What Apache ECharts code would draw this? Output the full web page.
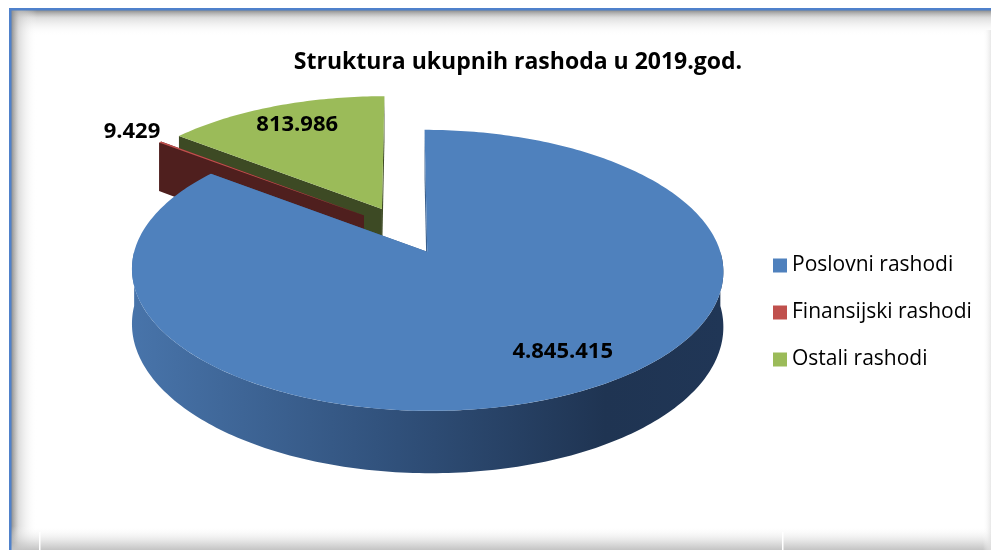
<!DOCTYPE html>
<html>
<head>
<meta charset="utf-8">
<script src="https://cdn.jsdelivr.net/npm/echarts@6/dist/echarts.min.js"></script>
<style>
  html, body { margin: 0; padding: 0; background: #fff; }
  #chart { width: 991px; height: 550px; }
</style>
</head>
<body>
<div id="chart"></div>
<script>
// data
const categories = ['Poslovni rashodi', 'Finansijski rashodi', 'Ostali rashodi']
const values = [4845415, 9429, 813986]
const titleText = 'Struktura ukupnih rashoda u 2019.god.'

// look
const topColors = ['#4F81BD', '#C0504D', '#9BBB59']
const wallColors = ['#3A5F8C', '#4F1F1E', '#3D4A24']
const seriesZ = [4, 3, 2]
const labelRadius = [0.78, 1.15, 0.8]
const labelTurn = [-6, 0, 1] // degrees, nudges label off the bisector
const FONT = '"Open Sans", "Noto Sans", sans-serif'

// 3d projection of the pie plane (unit radius) onto the page
const X0 = 404
const R = 287
const A = 230
const B = 102.7
const C = -0.129
const DEPTH = 53
const EXPLODE = 0.18

function project(px, py, dz) {
  const s = 1 / (1 + C * py)
  return [X0 + R * px * s, (A + B * py) * s + DEPTH * dz * s]
}

function fmt(v) {
  return String(v).replace(/\B(?=(\d{3})+(?!\d))/g, '.')
}

const total = values.reduce((s, x) => s + x, 0)

function makeRender(i) {
  return function (params, api) {
    const v = api.value(0)
    const before = values.slice(0, i).reduce((s, x) => s + x, 0)
    const a0 = (before / total) * 2 * Math.PI
    const a1 = ((before + v) / total) * 2 * Math.PI
    const mid = (a0 + a1) / 2
    const ox = EXPLODE * Math.sin(mid)
    const oy = -EXPLODE * Math.cos(mid)
    const rim = (t, dz, r = 1) =>
      project(ox + r * Math.sin(t), oy - r * Math.cos(t), dz)
    const arc = (t0, t1, dz) => {
      const n = Math.max(2, Math.ceil((t1 - t0) / (Math.PI / 180)))
      const pts = []
      for (let k = 0; k <= n; k++) pts.push(rim(t0 + ((t1 - t0) * k) / n, dz))
      return pts
    }
    const children = []

    // front part of the outer wall
    const f0 = Math.max(a0, Math.PI / 2)
    const f1 = Math.min(a1, 1.5 * Math.PI)
    if (f1 > f0) {
      const fill =
        i === 0
          ? new echarts.graphic.LinearGradient(0, 0, 1, 0, [
              { offset: 0, color: '#4874AA' },
              { offset: 0.45, color: '#30507A' },
              { offset: 0.8, color: '#1F3452' },
              { offset: 1, color: '#203656' },
            ])
          : wallColors[i]
      children.push({
        type: 'polygon',
        shape: { points: arc(f0, f1, 0).concat(arc(f0, f1, 1).reverse()) },
        style: { fill: fill },
      })
    }

    // radial walls
    ;[a0, a1].forEach((t) => {
      children.push({
        type: 'polygon',
        shape: {
          points: [project(ox, oy, 0), rim(t, 0), rim(t, 1), project(ox, oy, 1)],
        },
        style: { fill: wallColors[i] },
      })
    })

    // top face
    children.push({
      type: 'polygon',
      shape: { points: [project(ox, oy, 0)].concat(arc(a0, a1, 0)) },
      style: { fill: topColors[i] },
    })

    // value label
    const lp = rim(mid + (labelTurn[i] * Math.PI) / 180, 0, labelRadius[i])
    children.push({
      type: 'text',
      z2: 100,
      style: {
        text: fmt(v),
        x: lp[0],
        y: lp[1],
        fill: '#000',
        fontSize: 22,
        fontWeight: 'bold',
        fontFamily: FONT,
        align: 'center',
        verticalAlign: 'middle',
        textAlign: 'center',
        textVerticalAlign: 'middle',
      },
    })
    return { type: 'group', children: children }
  }
}

const chart = echarts.init(document.getElementById('chart'), null, {
  renderer: 'canvas',
  width: 991,
  height: 550,
})

const shadow = (x0, y0, x1, y1, c) =>
  new echarts.graphic.LinearGradient(x0, y0, x1, y1, [
    { offset: 0, color: c },
    { offset: 0.3, color: 'rgba(200,200,200,0.6)' },
    { offset: 1, color: 'rgba(255,255,255,0)' },
  ])

const option = {
  animation: false,
  backgroundColor: '#fff',
  graphic: {
    elements: [
      // frame shadows
      { type: 'rect', shape: { x: 11, y: 10, width: 980, height: 26 }, style: { fill: shadow(0, 0, 0, 1, '#8a8a8a') } },
      { type: 'rect', shape: { x: 11, y: 10, width: 26, height: 540 }, style: { fill: shadow(0, 0, 1, 0, '#8a8a8a') } },
      { type: 'rect', shape: { x: 11, y: 526, width: 980, height: 24 }, style: { fill: shadow(0, 1, 0, 0, '#c4c4c4') } },
      {
        type: 'rect',
        shape: { x: 983, y: 30, width: 8, height: 520 },
        style: {
          fill: new echarts.graphic.LinearGradient(1, 0, 0, 0, [
            { offset: 0, color: 'rgba(225,225,225,0.8)' },
            { offset: 1, color: 'rgba(255,255,255,0)' },
          ]),
        },
      },
      { type: 'rect', shape: { x: 39, y: 532, width: 1.5, height: 18 }, style: { fill: '#fff' } },
      { type: 'rect', shape: { x: 782, y: 532, width: 1.5, height: 18 }, style: { fill: '#fff' } },
      // frame lines
      { type: 'rect', shape: { x: 9, y: 8, width: 982, height: 2.5 }, style: { fill: '#4F81CB' } },
      { type: 'rect', shape: { x: 9, y: 8, width: 2.5, height: 542 }, style: { fill: '#4F81CB' } },
      // title
      {
        type: 'text',
        x: 518,
        y: 62,
        style: {
          text: titleText,
          fill: '#000',
          fontSize: 23,
          fontWeight: 'bold',
          fontFamily: FONT,
          align: 'center',
          verticalAlign: 'middle',
          textAlign: 'center',
          textVerticalAlign: 'middle',
        },
      },
    ],
  },
  legend: {
    orient: 'vertical',
    left: 773,
    top: 255,
    padding: 0,
    icon: 'rect',
    itemWidth: 14,
    itemHeight: 14,
    itemGap: 26,
    data: categories,
    textStyle: { fontSize: 21, fontFamily: FONT, color: '#000', lineHeight: 20 },
  },
  series: categories.map((name, i) => ({
    type: 'custom',
    name: name,
    coordinateSystem: 'none',
    z: seriesZ[i],
    itemStyle: { color: topColors[i] },
    data: [[values[i]]],
    renderItem: makeRender(i),
  })),
}

chart.setOption(option)
</script>
</body>
</html>
